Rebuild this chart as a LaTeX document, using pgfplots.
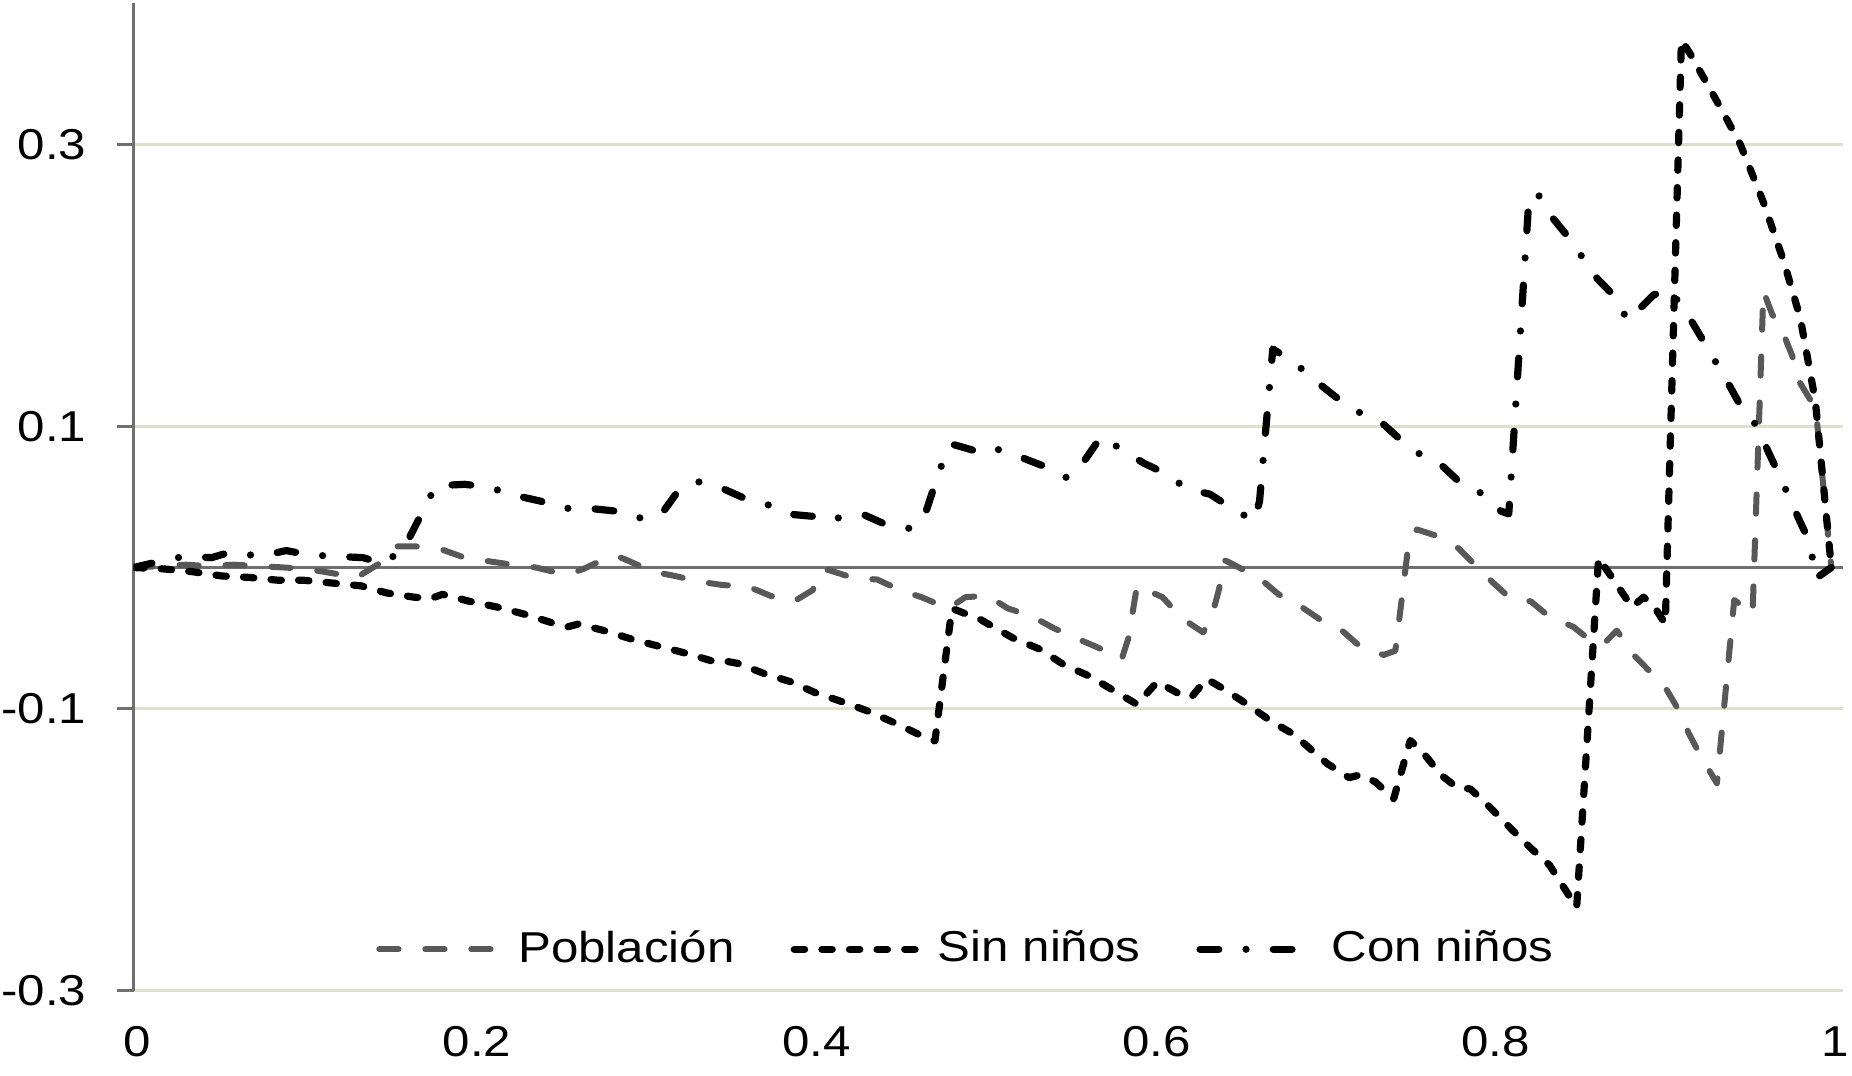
\documentclass[border=0pt]{standalone}
\usepackage{pgfplots}
\pgfplotsset{compat=1.18}
\usepackage{graphicx}
\usepackage{fontspec}
\setmainfont{Liberation Sans}
\newcommand{\hs}[1]{\scalebox{1.14}[1]{#1}}
\definecolor{gridc}{RGB}{226,222,205}
\definecolor{axc}{RGB}{112,112,112}
\definecolor{popc}{RGB}{88,88,88}
\pgfplotsset{
  limgA/.style={legend image code/.code={\draw[##1] (0pt,0pt) -- (32pt,0pt);}},
  limgB/.style={legend image code/.code={\draw[##1] (0pt,0pt) -- (33pt,0pt);}},
  limgC/.style={legend image code/.code={\draw[##1] (0pt,0pt) -- (26pt,0pt); \path (30pt,0pt);}},
}
\begin{document}
\begin{tikzpicture}
\begin{axis}[
  name=ax,
  scale only axis, width=427.4pt, height=246.8pt,
  xmin=0, xmax=1.007, ymin=-0.3, ymax=0.4,
  axis lines*=left, separate axis lines,
  x axis line style={draw=none},
  y axis line style={draw=axc, line width=0.75pt},
  xtick={0,0.2,0.4,0.6,0.8,1},
  xticklabels={\hs{0},\hs{0.2},\hs{0.4},\hs{0.6},\hs{0.8},\hs{1}},
  ytick={-0.3,-0.1,0.1,0.3},
  yticklabels={\hs{-0.3},\hs{-0.1},\hs{0.1},\hs{0.3}},
  tick align=outside,
  major tick length=4.25pt,
  xtick style={draw=none},
  ytick style={draw=axc, line width=0.75pt},
  ymajorgrids, major grid style={draw=gridc, line width=0.6pt},
  extra y ticks={0}, extra y tick labels={},
  extra y tick style={major tick length=0pt, grid=major, major grid style={draw=axc, line width=0.6pt}},
  tick label style={font=\fontsize{10.8}{13}\selectfont},
  yticklabel style={inner sep=0pt, anchor=east, xshift=-7.4pt},
  xticklabel style={inner sep=0pt, anchor=north, yshift=-4.6pt, xshift=1pt},
  legend style={at={(axis cs:0.492,-0.2707)}, anchor=center, draw=none, fill=none,
    font=\fontsize{10.8}{13}\selectfont,
    /tikz/every even column/.append style={column sep=12pt}},
  legend columns=3,
  legend cell align=left,
]
\addplot[popc, line width=1.5pt, line cap=round, line join=round, dash pattern=on 4.8pt off 6.7pt, limgA] coordinates {
(0,0) (0.031,0.002) (0.044,0.001) (0.059,0.002) (0.0735,0.001) (0.089,0.000) (0.102,-0.001)
(0.117,-0.004) (0.1315,-0.007) (0.145,0.003) (0.155,0.015) (0.166,0.015) (0.181,0.013)
(0.195,0.007) (0.209,0.0045) (0.223,0.002) (0.237,0.000) (0.251,-0.004) (0.258,-0.004)
(0.265,-0.001) (0.279,0.007) (0.285,0.008) (0.292,0.0045) (0.306,-0.003) (0.319,-0.006)
(0.333,-0.010) (0.3475,-0.0125) (0.361,-0.013) (0.375,-0.020) (0.389,-0.024) (0.400,-0.016)
(0.406,-0.001) (0.410,-0.002) (0.424,-0.0074) (0.438,-0.0085) (0.4515,-0.016) (0.464,-0.021)
(0.480,-0.029) (0.490,-0.021) (0.503,-0.020) (0.515,-0.029) (0.529,-0.0345) (0.542,-0.043)
(0.555,-0.050) (0.5685,-0.057) (0.582,-0.065) (0.586,-0.050) (0.591,-0.013) (0.606,-0.021)
(0.6175,-0.036) (0.630,-0.046) (0.635,-0.035) (0.639,-0.017) (0.643,0.005) (0.648,0.002)
(0.6636,-0.008) (0.6744,-0.019) (0.688,-0.028) (0.699,-0.037) (0.712,-0.045) (0.7225,-0.056)
(0.7363,-0.062) (0.7432,-0.059) (0.751,0.017) (0.7559,0.027) (0.7687,0.022) (0.7805,0.0135)
(0.7913,0.0005) (0.801,-0.011) (0.811,-0.022) (0.823,-0.024) (0.834,-0.035) (0.848,-0.042)
(0.860,-0.0535) (0.866,-0.054) (0.8737,-0.0447) (0.8835,-0.062) (0.8934,-0.074) (0.9032,-0.087)
(0.910,-0.101) (0.916,-0.1175) (0.9228,-0.133) (0.9326,-0.153) (0.9428,-0.023) (0.9536,-0.033)
(0.960,0.196) (0.965,0.180) (0.972,0.165) (0.977,0.150) (0.981,0.132) (0.9876,0.119)
(0.9906,0.115) (1.0,0.0)
};
\addlegendentry{\hs{Población}}
\addplot[black, line width=1.8pt, line cap=round, line join=round, dash pattern=on 2.6pt off 4.3pt, limgB] coordinates {
(0,0) (0.018,-0.001) (0.035,-0.003) (0.052,-0.006) (0.068,-0.007) (0.085,-0.009) (0.10,-0.009)
(0.117,-0.011) (0.134,-0.013) (0.149,-0.018) (0.165,-0.021) (0.175,-0.022) (0.182,-0.019)
(0.198,-0.024) (0.214,-0.028) (0.230,-0.033) (0.246,-0.039) (0.256,-0.042) (0.262,-0.040)
(0.278,-0.045) (0.294,-0.051) (0.310,-0.056) (0.326,-0.061) (0.340,-0.066) (0.347,-0.066)
(0.356,-0.068) (0.371,-0.075) (0.387,-0.081) (0.402,-0.089) (0.417,-0.095) (0.433,-0.102)
(0.448,-0.110) (0.462,-0.118) (0.472,-0.123) (0.482,-0.029) (0.499,-0.037) (0.518,-0.050)
(0.534,-0.058) (0.548,-0.069) (0.563,-0.077) (0.577,-0.087) (0.591,-0.097) (0.603,-0.081)
(0.615,-0.089) (0.623,-0.092) (0.632,-0.079) (0.642,-0.086) (0.656,-0.097) (0.670,-0.109)
(0.683,-0.118) (0.703,-0.139) (0.716,-0.149) (0.7225,-0.147) (0.7314,-0.152) (0.7422,-0.164)
(0.752,-0.1226) (0.760,-0.132) (0.770,-0.147) (0.7795,-0.156) (0.7873,-0.157) (0.7952,-0.1655)
(0.812,-0.186) (0.823,-0.199) (0.834,-0.211) (0.850,-0.241) (0.8629,0.0068) (0.8826,-0.028)
(0.8894,-0.021) (0.8953,-0.027) (0.9022,-0.040) (0.9117,0.374) (0.917,0.364) (0.9366,0.322)
(0.9464,0.300) (0.960,0.259) (0.972,0.217) (0.9817,0.177) (0.9906,0.118) (1.0,0.0)
};
\addlegendentry{\hs{Sin niños}}
\addplot[black, line width=1.8pt, line cap=round, line join=round, dash pattern=on 4.7pt off 6.8pt on 0pt off 6.8pt, limgC] coordinates {
(0,0) (0.014,0.004) (0.030,0.008) (0.046,0.007) (0.057,0.011) (0.074,0.008) (0.090,0.012)
(0.103,0.009) (0.118,0.008) (0.135,0.007) (0.147,0.003) (0.159,0.013) (0.178,0.058)
(0.195,0.059) (0.209,0.057) (0.225,0.051) (0.240,0.047) (0.252,0.042) (0.268,0.042)
(0.284,0.040) (0.297,0.035) (0.311,0.038) (0.320,0.053) (0.332,0.061) (0.347,0.056)
(0.360,0.049) (0.375,0.044) (0.389,0.0375) (0.403,0.036) (0.410,0.033) (0.417,0.036)
(0.430,0.0375) (0.444,0.030) (0.458,0.0276) (0.466,0.037) (0.475,0.070) (0.482,0.0875)
(0.495,0.083) (0.502,0.086) (0.5095,0.0836) (0.523,0.078) (0.538,0.071) (0.550,0.0635)
(0.560,0.0757) (0.570,0.093) (0.582,0.0836) (0.595,0.074) (0.609,0.066) (0.620,0.056)
(0.634,0.052) (0.647,0.042) (0.660,0.033) (0.6632,0.047) (0.671,0.155) (0.684,0.145)
(0.696,0.1325) (0.708,0.121) (0.721,0.1105) (0.734,0.104) (0.745,0.092) (0.7575,0.0805)
(0.770,0.073) (0.7815,0.060) (0.795,0.052) (0.8054,0.040) (0.810,0.038) (0.822,0.264)
(0.8276,0.264) (0.8344,0.2500) (0.8453,0.234) (0.862,0.205) (0.873,0.1914) (0.880,0.175)
(0.8953,0.1933) (0.905,0.197) (0.916,0.178) (0.9242,0.1615) (0.9386,0.132) (0.9464,0.115)
(0.9576,0.098) (0.9625,0.083) (0.9692,0.066) (0.981,0.034) (0.9876,0.017) (0.9906,-0.008)
(1.0,0.0)
};
\addlegendentry{\hs{Con niños}}
\end{axis}
\pgfresetboundingbox
\path (ax.south west) ++(-33.4pt,-21.1pt) rectangle ++(463pt,268.75pt);
\end{tikzpicture}
\end{document}
